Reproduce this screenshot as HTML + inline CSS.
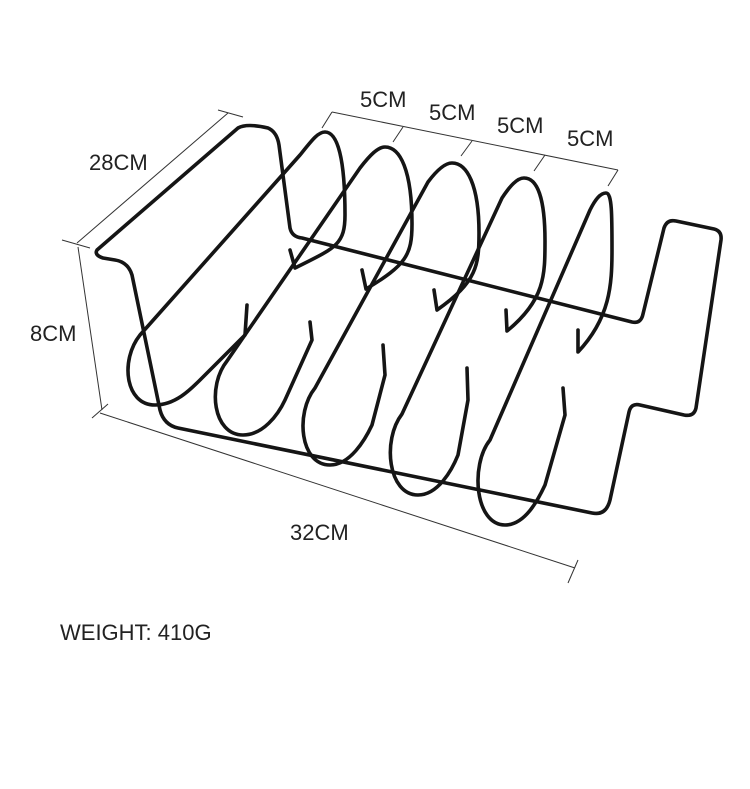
<!DOCTYPE html>
<html><head><meta charset="utf-8"><style>
html,body{margin:0;padding:0;background:#fff;}
svg{display:block}
text{font-family:"Liberation Sans",sans-serif;fill:#222;font-size:22px}
</style></head><body>
<svg width="750" height="789" viewBox="0 0 750 789" xmlns="http://www.w3.org/2000/svg">
<g stroke="#333" stroke-width="1" fill="none">
<line x1="77" y1="243" x2="228" y2="113"/>
<line x1="62" y1="240" x2="90" y2="248"/>
<line x1="218" y1="110" x2="243" y2="117"/>
<line x1="78" y1="247" x2="102" y2="410"/>
<line x1="92" y1="418" x2="108" y2="404"/>
<line x1="100" y1="413" x2="575" y2="568"/>
<line x1="568" y1="583" x2="578" y2="560"/>
<line x1="332" y1="112" x2="618" y2="170"/>
<line x1="332" y1="112" x2="322" y2="128"/>
<line x1="403" y1="127" x2="393" y2="142"/>
<line x1="472" y1="141" x2="461" y2="156"/>
<line x1="545" y1="155" x2="534" y2="171"/>
<line x1="618" y1="170" x2="608" y2="186"/>
</g>
<g stroke="#151515" stroke-width="3.6" fill="none" stroke-linejoin="round" stroke-linecap="round">
<path d="M97,250 L238,128 Q247,123 268,128 Q277,132 279,145 L290,228 Q292,237 302,238 L632,322 Q641,324 643,314 L664,228 Q667,219 676,221 L714,229 Q722,231 721,240 L696,408 Q694,417 684,415 L640,405 Q631,403 629,412 L610,500 Q606,516 592,513 L178,428 Q164,425 160,410 L132,275 Q128,262 115,260 L103,258 Q94,255 97,250 Z"/>
<path d="M290,250 L295,268 C335,248 345,245 345,215 C345,160 338,132 325,132 C318,132 312,140 300,155 L140,335 C120,360 125,405 155,405 C175,405 190,390 200,380 L245,335 L247,305"/>
<path d="M362,270 L366,289 C406,265 412,255 412,224 C412,170 400,147 385,147 C378,147 370,155 360,168 L227,361 C207,386 213,435 243,435 C263,435 278,415 285,400 L312,340 L310,322"/>
<path d="M434,290 L437,310 C477,282 479,265 479,233 C479,185 467,163 452,163 C445,163 437,170 428,182 L315,388 C295,413 300,465 330,465 C350,465 365,440 372,425 L385,375 L383,345"/>
<path d="M506,310 L507,331 C545,300 545,275 545,241 C545,200 538,178 524,178 C517,178 510,186 502,198 L402,414 C382,440 388,495 418,495 C438,495 452,470 458,455 L468,400 L467,368"/>
<path d="M578,330 L578,352 C610,318 612,285 612,250 C612,215 612,193 606,193 C600,193 595,200 590,210 L490,440 C470,465 475,525 505,525 C525,525 538,500 545,485 L565,415 L563,388"/>
</g>
<text x="89" y="170">28CM</text>
<text x="30" y="341">8CM</text>
<text x="360" y="107">5CM</text>
<text x="429" y="120">5CM</text>
<text x="497" y="133">5CM</text>
<text x="567" y="146">5CM</text>
<text x="290" y="540">32CM</text>
<text x="60" y="640">WEIGHT: 410G</text>
</svg>
</body></html>
